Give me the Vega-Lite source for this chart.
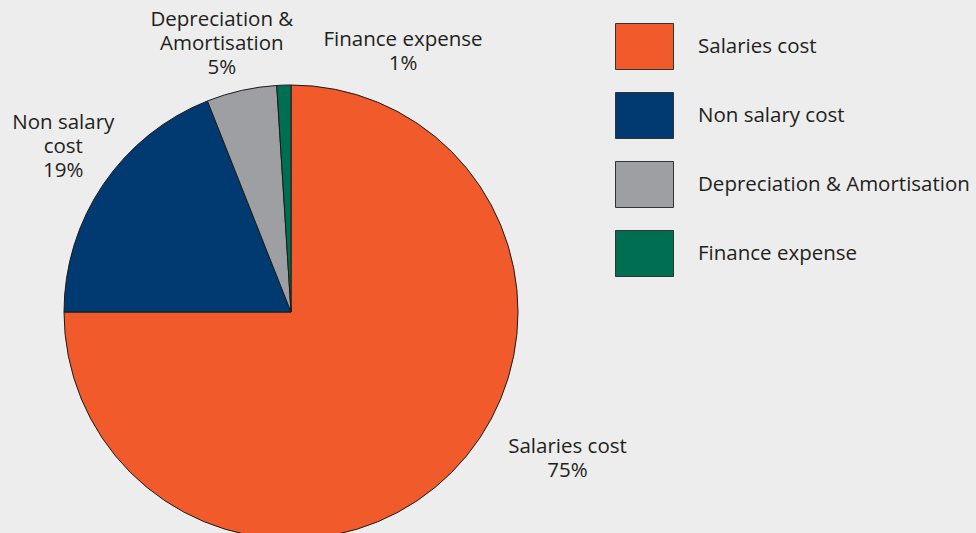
{
  "$schema": "https://vega.github.io/schema/vega-lite/v6.json",
  "autosize": "none",
  "width": 582,
  "height": 624,
  "padding": {"left": 0, "top": 0, "right": 394, "bottom": 0},
  "background": "#ededed",
  "view": {"stroke": null},
  "config": {"font": "Open Sans"},
  "data": {
    "values": [
      {"category": "Salaries cost", "value": 75, "rank": 1, "label": "Salaries cost\n75%"},
      {"category": "Non salary cost", "value": 19, "rank": 2, "label": "Non salary\ncost\n19%"},
      {"category": "Depreciation & Amortisation", "value": 5, "rank": 3, "label": "Depreciation &\nAmortisation\n5%"},
      {"category": "Finance expense", "value": 1, "rank": 4, "label": "Finance expense\n1%"}
    ]
  },
  "encoding": {
    "theta": {"field": "value", "type": "quantitative", "stack": true},
    "order": {"field": "rank", "type": "quantitative"}
  },
  "layer": [
    {
      "mark": {"type": "arc", "outerRadius": 227, "stroke": "#1a1a1a", "strokeWidth": 1},
      "encoding": {
        "color": {
          "field": "category",
          "type": "nominal",
          "scale": {
            "domain": ["Salaries cost", "Non salary cost", "Depreciation & Amortisation", "Finance expense"],
            "range": ["#f15a2b", "#003a70", "#9d9fa2", "#006f51"]
          },
          "legend": {
            "title": null,
            "orient": "none",
            "legendX": 615,
            "legendY": 17,
            "padding": 0,
            "symbolType": "M-1,-0.7931H1V0.7931H-1Z",
            "symbolSize": 3364,
            "symbolStrokeColor": "#333333",
            "symbolStrokeWidth": 1,
            "symbolOpacity": 1,
            "rowPadding": 14,
            "labelOffset": 24,
            "labelFontSize": 20.5,
            "labelFont": "Open Sans",
            "labelColor": "#231f20",
            "labelLimit": 400
          }
        }
      }
    },
    {
      "mark": {
        "type": "text",
        "radius": 285,
        "fontSize": 20.5,
        "lineBreak": "\n",
        "lineHeight": 24,
        "align": "center",
        "baseline": "middle",
        "color": "#231f20",
        "dx": {"expr": "datum.category == 'Salaries cost' ? 75 : datum.category == 'Non salary cost' ? 8 : datum.category == 'Finance expense' ? 121 : -7"},
        "dy": {"expr": "datum.category == 'Salaries cost' ? -67 : datum.category == 'Non salary cost' ? -29 : datum.category == 'Finance expense' ? 13 : -14"}
      },
      "encoding": {
        "text": {"field": "label"},
        "detail": {"field": "category"}
      }
    }
  ]
}
